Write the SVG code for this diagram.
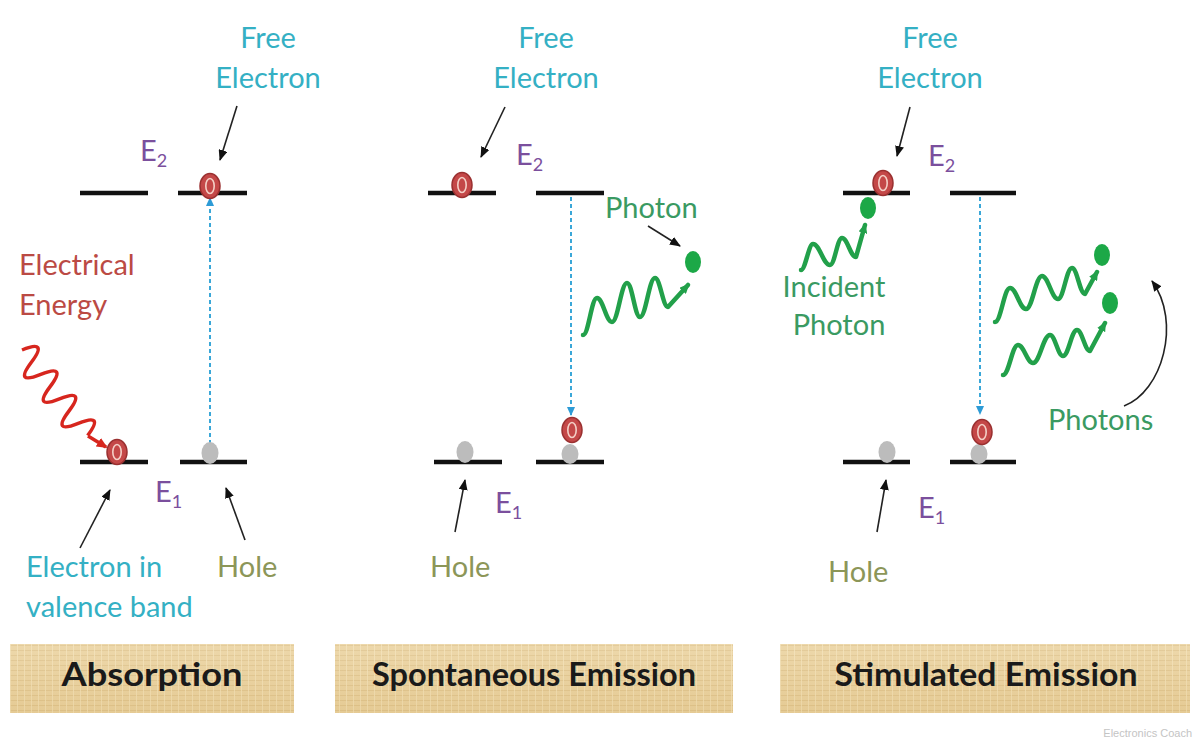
<svg xmlns="http://www.w3.org/2000/svg" width="1194" height="742" viewBox="0 0 1194 742">
<defs>
<style>
.lvl{stroke:#111;stroke-width:4.5;fill:none}
.t{font-family:Lato,"Open Sans","Liberation Sans",sans-serif;font-size:29px}
.cy{fill:#34b0c4}
.pu{fill:#7b4f9d}
.ol{fill:#8c9658}
.gr{fill:#3a9a62}
.rd{fill:#bb4a44}
.title{font-family:Lato,"Open Sans","Liberation Sans",sans-serif;font-size:32px;font-weight:bold;fill:#1a1a1a}
.el{fill:#c44848;stroke:#9a3030;stroke-width:1.5}
.eli{fill:none;stroke:#f4cfc6;stroke-width:1.6}
.hole{fill:#bcbcbc}
.ph{fill:#1ca847}
.blk{stroke:#222;stroke-width:1.6;fill:none;marker-end:url(#ab)}
.dot{stroke:#3aa7d8;stroke-width:2;stroke-dasharray:4 3;fill:none}
.gw{stroke:#22a04a;stroke-width:4.5;fill:none;stroke-linecap:round;stroke-linejoin:round}
</style>
<marker id="ab" markerUnits="userSpaceOnUse" markerWidth="11" markerHeight="9" refX="10" refY="4.5" orient="auto"><path d="M0,0 L11,4.5 L0,9 z" fill="#111"/></marker>
<marker id="abl" markerUnits="userSpaceOnUse" markerWidth="9" markerHeight="8" refX="8" refY="4" orient="auto"><path d="M0,0 L9,4 L0,8 z" fill="#2d9bd6"/></marker>
<marker id="agr" markerUnits="userSpaceOnUse" markerWidth="10" markerHeight="9" refX="8" refY="4.5" orient="auto"><path d="M0,0 L10,4.5 L0,9 z" fill="#22a04a"/></marker>
<marker id="ard" markerUnits="userSpaceOnUse" markerWidth="11" markerHeight="10" refX="9" refY="5" orient="auto"><path d="M0,0 L11,5 L0,10 z" fill="#d7261e"/></marker>
<pattern id="tex" width="7" height="5" patternUnits="userSpaceOnUse">
<rect width="7" height="5" fill="#ead19c"/>
<path d="M0,0.5 H7" stroke="#dcbf85" stroke-width="0.8"/>
<path d="M3.5,0 V5" stroke="#f3e0b4" stroke-width="0.8"/>
</pattern>
<linearGradient id="shade" x1="0" y1="0" x2="0" y2="1">
<stop offset="0" stop-color="#fff" stop-opacity="0.15"/>
<stop offset="1" stop-color="#c9a566" stop-opacity="0.15"/>
</linearGradient>
</defs>
<rect width="1194" height="742" fill="#fff"/>

<g id="connectors">
<path class="dot" d="M210,444 V198" marker-end="url(#abl)"/>
<path class="dot" d="M571,197 V415" marker-end="url(#abl)"/>
<path class="dot" d="M980,197 V414" marker-end="url(#abl)"/>
<path class="blk" d="M237,106 L220,160"/>
<path class="blk" d="M80,548 L110,490"/>
<path class="blk" d="M245,540 L226,488"/>
<path class="blk" d="M505,107 L481,157"/>
<path class="blk" d="M648,226 L680,246"/>
<path class="blk" d="M455,532 L465,480"/>
<path class="blk" d="M910,107 L897,156"/>
<path class="blk" d="M877,532 L886,480"/>
<path class="blk" d="M1124,406 C1162,392 1182,322 1152,281"/>
<path d="M0,0 Q7.7,-28 15.4,0 T30.8,0 T46.2,0 T61.6,0 T77,0 T92.4,0 T107.8,0" transform="translate(22,350) rotate(52.5)" stroke="#d7261e" stroke-width="3.5" fill="none" stroke-linejoin="round"/>
<path d="M88,436 L106,447" stroke="#d7261e" stroke-width="3.5" fill="none" marker-end="url(#ard)"/>
<path class="gw" marker-end="url(#agr)" d="M583,335 C588.6,335 591.4,298 597,298 C603,298 606,322 612,322 C618,322 621,283 627,283 C632.2,283 634.8,317 640,317 C646,317 649,278 655,278 C660.2,278 662.8,307 668,307 L688,285"/>
<path class="gw" marker-end="url(#agr)" d="M801,270 C805.4,270 808.6,244 813,244 C819.8,244 823.2,265 830,265 C834.8,265 837.2,238 842,238 C847.6,238 850.4,257 856,257 L865,225"/>
<path class="gw" marker-end="url(#agr)" d="M995,322 C1001,322 1004,288 1010,288 C1016.4,288 1019.6,309 1026,309 C1032.4,309 1035.6,276 1042,276 C1048.4,276 1051.6,299 1058,299 C1063.6,299 1066.4,268 1072,268 C1077.2,268 1079.8,294 1085,294 L1097,272"/>
<path class="gw" marker-end="url(#agr)" d="M1003,375 C1009,375 1012,345 1018,345 C1024,345 1027,363 1033,363 C1039.8,363 1043.2,335 1050,335 C1055.2,335 1057.8,356 1063,356 C1068.6,356 1071.4,330 1077,330 C1082.2,330 1084.8,351 1090,351 L1105,323"/>
</g>

<g id="absorption">
<g id="abs-levels">
<path class="lvl" d="M80,193 H148 M178,193 H247 M80,462 H148 M180,462 H247"/>
</g>
<g id="abs-particles">
<ellipse class="el" cx="210" cy="186" rx="10" ry="12.5"/><ellipse class="eli" cx="210" cy="186" rx="4.2" ry="7.5"/>
<ellipse class="el" cx="117" cy="452" rx="10" ry="12.5"/><ellipse class="eli" cx="117" cy="452" rx="4.2" ry="7.5"/>
<ellipse class="hole" cx="210" cy="453" rx="8.5" ry="11"/>
</g>
<g id="abs-labels">
<text class="t cy" x="268" y="48" text-anchor="middle">Free</text>
<text class="t cy" x="268" y="88" text-anchor="middle">Electron</text>
<text class="t pu" x="140" y="161">E<tspan font-size="18" dy="6">2</tspan></text>
<text class="t rd" x="19" y="275">Electrical</text>
<text class="t rd" x="19" y="315">Energy</text>
<text class="t pu" x="155" y="502">E<tspan font-size="18" dy="6">1</tspan></text>
<text class="t cy" x="26" y="577">Electron in</text>
<text class="t cy" x="26" y="617">valence band</text>
<text class="t ol" x="217" y="577">Hole</text>
</g>
<g id="abs-title">
<rect x="10" y="644" width="284" height="69" fill="url(#tex)"/>
<rect x="10" y="644" width="284" height="69" fill="url(#shade)"/>
<text class="title" x="152" y="686" text-anchor="middle" textLength="181" lengthAdjust="spacingAndGlyphs">Absorption</text>
</g>
</g>

<g id="spontaneous">
<g id="spo-levels">
<path class="lvl" d="M428,193 H496 M536,193 H604 M434,462 H502 M536,462 H604"/>
</g>
<g id="spo-particles">
<ellipse class="el" cx="462" cy="185" rx="10" ry="12.5"/><ellipse class="eli" cx="462" cy="185" rx="4.2" ry="7.5"/>
<ellipse class="hole" cx="465" cy="452" rx="8.5" ry="11"/>
<ellipse class="hole" cx="570" cy="454" rx="8.5" ry="10"/>
<ellipse class="el" cx="572" cy="430" rx="10" ry="12.5"/><ellipse class="eli" cx="572" cy="430" rx="4.2" ry="7.5"/>
<ellipse class="ph" cx="693" cy="262" rx="8" ry="11"/>
</g>
<g id="spo-labels">
<text class="t cy" x="546" y="48" text-anchor="middle">Free</text>
<text class="t cy" x="546" y="88" text-anchor="middle">Electron</text>
<text class="t pu" x="516" y="165">E<tspan font-size="18" dy="6">2</tspan></text>
<text class="t gr" x="605" y="218">Photon</text>
<text class="t pu" x="495" y="513">E<tspan font-size="18" dy="6">1</tspan></text>
<text class="t ol" x="430" y="577">Hole</text>
</g>
<g id="spo-title">
<rect x="335" y="644" width="398" height="69" fill="url(#tex)"/>
<rect x="335" y="644" width="398" height="69" fill="url(#shade)"/>
<text class="title" x="534" y="686" text-anchor="middle" textLength="324" lengthAdjust="spacingAndGlyphs">Spontaneous Emission</text>
</g>
</g>

<g id="stimulated">
<g id="sti-levels">
<path class="lvl" d="M843,193 H910 M950,193 H1016 M843,462 H910 M950,462 H1016"/>
</g>
<g id="sti-particles">
<ellipse class="el" cx="883" cy="183" rx="10" ry="12.5"/><ellipse class="eli" cx="883" cy="183" rx="4.2" ry="7.5"/>
<ellipse class="ph" cx="868" cy="208" rx="8" ry="11"/>
<ellipse class="hole" cx="887" cy="452" rx="8.5" ry="11"/>
<ellipse class="hole" cx="979" cy="454" rx="8.5" ry="10"/>
<ellipse class="el" cx="982" cy="432" rx="10" ry="12.5"/><ellipse class="eli" cx="982" cy="432" rx="4.2" ry="7.5"/>
<ellipse class="ph" cx="1102" cy="255" rx="8" ry="11"/>
<ellipse class="ph" cx="1110" cy="303" rx="8" ry="11"/>
</g>
<g id="sti-labels">
<text class="t cy" x="930" y="48" text-anchor="middle">Free</text>
<text class="t cy" x="930" y="88" text-anchor="middle">Electron</text>
<text class="t pu" x="928" y="166">E<tspan font-size="18" dy="6">2</tspan></text>
<text class="t gr" x="834" y="297" text-anchor="middle">Incident</text>
<text class="t gr" x="839" y="335" text-anchor="middle">Photon</text>
<text class="t gr" x="1048" y="430">Photons</text>
<text class="t pu" x="918" y="518">E<tspan font-size="18" dy="6">1</tspan></text>
<text class="t ol" x="828" y="582">Hole</text>
</g>
<g id="sti-title">
<rect x="780" y="644" width="410" height="69" fill="url(#tex)"/>
<rect x="780" y="644" width="410" height="69" fill="url(#shade)"/>
<text class="title" x="986" y="686" text-anchor="middle" textLength="303" lengthAdjust="spacingAndGlyphs">Stimulated Emission</text>
</g>
</g>

<text id="watermark" x="1192" y="737" text-anchor="end" font-family="'Liberation Sans',Arial,sans-serif" font-size="11" fill="#c4c4c4">Electronics Coach</text>
</svg>
